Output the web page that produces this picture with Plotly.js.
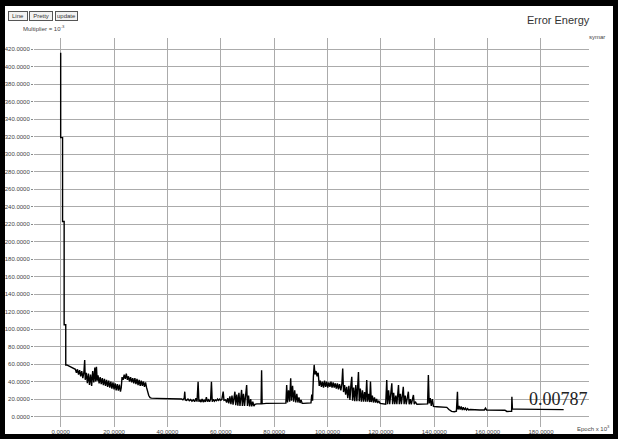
<!DOCTYPE html>
<html>
<head>
<meta charset="utf-8">
<script src="https://cdn.plot.ly/plotly-3.0.1.min.js"></script>
<style>
  html, body { margin: 0; padding: 0; background: #fff; }
  #wrap { position: relative; width: 618px; height: 439px; overflow: hidden; }
  #chart { position: absolute; left: 0; top: 0; width: 618px; height: 439px; }
  #frame { position: absolute; left: 0; top: 0; width: 618px; height: 439px; box-sizing: border-box;
           border-top: 6px solid #000; border-left: 5px solid #000; border-right: 5px solid #000; border-bottom: 5px solid #000;
           pointer-events: none; }
</style>
</head>
<body>
<div id="wrap"><div id="chart"></div><div id="frame"></div></div>
<script>
// Epoch (x 10^3)
const epochs = [
  0, 0, 0.7, 0.7, 1.3, 1.3, 1.9, 1.9, 2.3,
  3, 3.5, 4, 4.5, 5, 5.5,
  5.9, 6.3, 6.7, 7.1, 7.5, 7.9, 8.3, 8.7, 9.0, 9.2, 9.6, 10.0, 10.4, 10.8, 11.2, 11.6,
  12.0, 12.4, 12.8, 13.1, 13.4, 13.7, 14.0,
  14.4, 14.8, 15.2, 15.6, 16.0, 16.4, 16.8, 17.2, 17.6, 18.0, 18.4, 18.8, 19.2, 19.6, 20.0, 20.4, 20.8, 21.2, 21.6, 22.0, 22.4, 22.7,
  23.0, 23.4, 23.8, 24.2, 24.6, 25.0, 25.4, 25.8, 26.2, 26.6, 27.0, 27.4, 27.8, 28.2, 28.6, 29.0, 29.4, 29.8, 30.2, 30.6, 31.0, 31.4, 31.8, 32.2,
  32.6, 33.0, 33.5, 34, 36, 38, 40, 42, 44, 45,
  45.3, 45.8, 46.3, 46.5, 46.7, 47.2, 47.7, 48.2, 48.7, 49.2, 49.7, 50.2, 50.7, 51.1, 51.5, 51.8, 52.2, 52.6, 53.0, 53.4, 53.8, 54.2, 54.6, 55.0, 55.4, 55.8, 56.2, 56.5, 56.8, 57.2, 57.6, 58.0, 58.4, 58.8, 59.2, 59.6, 60.0, 60.4, 60.9, 61.2,
  61.8, 62.2, 62.6, 63.0, 63.4, 63.8, 64.2, 64.6, 65.0, 65.3, 65.6, 66.0, 66.4, 66.8, 67.2, 67.8, 68.1, 68.5, 68.9, 69.3, 69.7, 70.0, 70.4, 70.8, 71.2, 71.6, 72.0, 72.4, 72.8,
  73.5, 74.5, 75.1, 75.3, 75.5, 77, 79, 81, 83, 84.4,
  84.7, 85.0, 85.4, 85.8, 86.2, 86.5, 86.9, 87.3, 87.7, 88.1, 88.5, 88.9, 89.3, 89.7, 90.1, 90.5,
  91, 92, 93, 93.8,
  94.1, 94.4, 94.7, 95.0, 95.3, 95.7, 96.1, 96.5,
  96.9, 97.3, 97.7, 98.1, 98.5, 98.9, 99.3, 99.7, 100.1, 100.5, 100.9, 101.3, 101.7, 102.1, 102.5, 102.9, 103.3, 103.7, 104.1, 104.5,
  105.0, 105.4, 105.7, 106.0, 106.4, 106.8, 107.2, 107.6, 108.0, 108.4, 108.8, 109.1, 109.4, 109.8, 110.2, 110.6, 111.0, 111.3, 111.6, 111.9, 112.3, 112.7, 113.1, 113.5, 113.9, 114.3, 114.7, 115.0, 115.4, 115.8, 116.1, 116.4, 116.8, 117.2, 117.6, 118.0, 118.4, 118.8, 119.2, 119.7,
  120.5, 121.4,
  121.8, 122.2, 122.5, 122.9, 123.3, 123.7, 124.1, 124.4, 124.8, 125.2, 125.6, 126.0, 126.3, 126.6, 126.9, 127.3, 127.7, 128.1, 128.4, 128.7, 129.1, 129.5, 129.9, 130.3, 130.6, 131.0, 131.4, 131.8, 132.2, 132.5, 132.9, 133.5,
  135, 137,
  137.5, 137.8, 138.1, 138.5, 138.9, 139.3, 139.7,
  141, 143, 144.7, 145.5, 146.5, 147.5, 148.3,
  148.7, 148.9, 149.3, 149.7, 150.1, 150.5, 150.9, 151.3, 151.7, 152.1, 152.5, 152.9, 153.5,
  155, 157, 158.8, 159.2, 159.6, 161, 163, 165, 166.5,
  167.2, 168.3, 169.0, 169.1, 169.3,
  171, 174, 177, 180, 183, 186, 188.5
];
// Error energy (x 10^-3)
const errorEnergy = [
  416, 319, 319, 223, 223, 105, 105, 59, 59,
  58, 57, 56, 56, 55, 54,
  50, 54, 48, 53, 46, 52, 44, 51, 64.6, 42, 50, 38, 49, 36, 48, 35,
  52, 39, 56, 40, 57, 41, 47,
  38, 45, 37, 44, 36, 43, 35, 42, 34, 41, 33, 40, 32, 39, 31, 38, 30, 37, 29.5, 36.5, 28.5, 33,
  45, 42, 48, 43, 49, 42, 46, 40, 45, 39, 44, 38, 44, 37, 43, 36, 42, 35, 41, 35, 40, 34, 39, 33,
  28, 24, 21.5, 21, 20.8, 20.8, 20.6, 20.7, 20.6, 20.5,
  20, 19, 21, 28.4, 19, 18.5, 20, 18, 19.5, 17.5, 19, 17, 21, 17, 39.8, 17, 19, 16.5, 20, 16.5, 19, 16.8, 22, 17, 19, 17, 20, 39.8, 17, 19.5, 17.5, 19, 18, 20, 18.5, 20, 18.5, 19.5, 28.4, 18.5,
  19, 16, 21, 15, 23, 14, 24, 13.5, 26, 28.4, 13, 25, 12.5, 27, 12, 30.4, 12, 26, 12, 29, 36, 12, 24, 11.5, 20, 11.5, 17, 12, 14,
  14.5, 14.5, 14.5, 53, 14.5, 15, 15, 15, 15.2, 15.3,
  36, 16, 30, 17, 43.7, 18, 35, 17, 30, 16, 26, 16, 22, 15.5, 19, 15,
  15, 15, 15.2, 15.5,
  25, 18, 45, 59, 48, 52, 46, 50,
  35, 41, 34, 40, 33, 41, 34, 40, 33, 39, 34, 40, 33, 39, 33, 38, 32, 38, 31, 37,
  30, 38, 55, 28, 36, 25, 34, 21, 35, 19, 37, 45.5, 18, 33, 17.5, 36, 17.5, 40, 51, 17.5, 32, 17, 30, 17, 28, 17, 41.8, 17, 26, 16.5, 40, 16.5, 24, 16, 22, 16, 20, 15.5, 18, 15,
  14.5, 14.5,
  14, 41.8, 14, 30, 14, 26, 38, 14, 27, 14, 24, 14, 28, 36, 14, 26, 14, 23, 34, 14, 24, 14, 21, 28.4, 14, 20, 14, 19, 24.6, 14, 17, 14,
  14.5, 14.5,
  14.5, 47.5, 15, 21, 12, 20, 11.5,
  11.2, 11, 10.5, 8, 5.8, 5.5, 6,
  28.4, 8, 12, 8, 11.5, 7.5, 10.5, 7.5, 9.5, 7.5, 9, 7.4, 8,
  7.6, 7.5, 7.5, 9.5, 7.5, 7.5, 7.4, 7.3, 7.2,
  5.8, 5.6, 6, 22.7, 8.5,
  8.4, 8.3, 8.2, 8.1, 8.0, 7.9, 7.87
];
const xTickVals = [0, 20, 40, 60, 80, 100, 120, 140, 160, 180];
const yTickVals = [0, 20, 40, 60, 80, 100, 120, 140, 160, 180, 200, 220, 240, 260, 280, 300, 320, 340, 360, 380, 400, 420];
const buttonLabels = ["Line", "Pretty", "update"];
const finalValueLabel = "0.00787";

const tickFont = { family: "Liberation Sans, Arial, sans-serif", size: 6, color: "#444" };
const px2x = p => (p - 34) / 555;
const py2y = p => (427 - p) / 389;

const annotations = [
  { text: "Error Energy", xref: "paper", yref: "paper", x: px2x(558), y: py2y(20), xanchor: "center", yanchor: "middle",
    showarrow: false, font: { family: "Liberation Sans, Arial, sans-serif", size: 11, color: "#333" } },
  { text: "symar", xref: "paper", yref: "paper", x: px2x(597), y: py2y(37), xanchor: "center", yanchor: "middle",
    showarrow: false, font: { family: "Liberation Sans, Arial, sans-serif", size: 6, color: "#444" } },
  { text: "Multiplier = 10<sup>-3</sup>", xref: "paper", yref: "paper", x: px2x(44), y: py2y(28), xanchor: "center", yanchor: "middle",
    showarrow: false, font: { family: "Liberation Sans, Arial, sans-serif", size: 6, color: "#444" } },
  { text: "Epoch x 10<sup>3</sup>", xref: "paper", yref: "paper", x: px2x(612), y: py2y(428), xanchor: "right", yanchor: "middle",
    showarrow: false, font: { family: "Liberation Sans, Arial, sans-serif", size: 6, color: "#444" } },
  { text: finalValueLabel, xref: "x", yref: "y", x: epochs[epochs.length - 1] - 2, y: 20, xanchor: "center", yanchor: "middle",
    showarrow: false, font: { family: "Liberation Serif, Times New Roman, serif", size: 18, color: "#222" } }
];
const btnCenters = [17.5, 40.5, 66];
const btnWidths = [16, 20, 19];
buttonLabels.forEach((t, i) => {
  annotations.push({ text: t, xref: "paper", yref: "paper", x: px2x(btnCenters[i]), y: py2y(16), xanchor: "center", yanchor: "middle",
    showarrow: false, width: btnWidths[i], height: 6, bordercolor: "#555", borderwidth: 1, borderpad: 1, bgcolor: "#f2f2f2",
    font: { family: "Liberation Sans, Arial, sans-serif", size: 6, color: "#333" } });
});

const trace = {
  x: epochs, y: errorEnergy, type: "scatter", mode: "lines",
  line: { color: "#000", width: 1.4 }, hoverinfo: "skip"
};

const layout = {
  width: 618, height: 439,
  margin: { l: 34, r: 29, t: 38, b: 12, pad: 0 },
  paper_bgcolor: "#fff", plot_bgcolor: "#fff",
  showlegend: false,
  xaxis: {
    range: [-10, 198], tickvals: xTickVals, tickformat: ".4f", showgrid: true, gridcolor: "#ababab", gridwidth: 1,
    zeroline: false, showline: false, ticks: "", tickfont: tickFont, automargin: false, fixedrange: true, ticklabelstandoff: 0
  },
  yaxis: {
    range: [-12, 433], tickvals: yTickVals, tickformat: ".4f", showgrid: true, gridcolor: "#ababab", gridwidth: 1,
    zeroline: false, showline: false, ticks: "outside", ticklen: 2, tickcolor: "#888", tickfont: tickFont, automargin: false, fixedrange: true
  },
  annotations: annotations
};

Plotly.newPlot("chart", [trace], layout, { displayModeBar: false, staticPlot: true });
</script>
</body>
</html>
